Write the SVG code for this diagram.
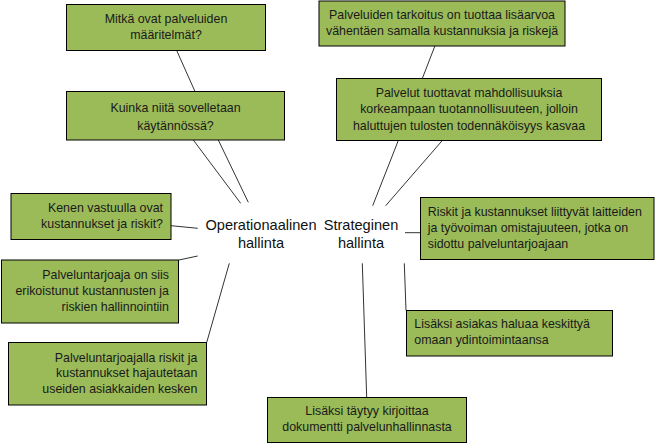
<svg xmlns="http://www.w3.org/2000/svg" width="655" height="444" viewBox="0 0 655 444">
<style>
.box{fill:#9BBB59;stroke:#000;stroke-width:1}
.t{font-family:"Liberation Sans",Arial,sans-serif;font-size:12.4px;fill:#1a1a1a}
.c{text-anchor:middle}
.r{text-anchor:end}
.hub{font-family:"Liberation Sans",Arial,sans-serif;font-size:14.6px;fill:#111;text-anchor:middle}
.ln{stroke:#333;stroke-width:1;fill:none}
</style>
<rect width="655" height="444" fill="#fff"/>
<g id="connectors">
<line class="ln" x1="176.7" y1="50.5" x2="195" y2="91.5"/>
<line class="ln" x1="193.3" y1="140" x2="240.7" y2="203.3"/>
<line class="ln" x1="218.3" y1="140" x2="248.3" y2="202.3"/>
<line class="ln" x1="171" y1="225.7" x2="197.7" y2="228.3"/>
<line class="ln" x1="179" y1="260" x2="197.7" y2="256"/>
<line class="ln" x1="206.7" y1="342.5" x2="229.3" y2="263.3"/>
<line class="ln" x1="366.7" y1="397.5" x2="362.3" y2="263.3"/>
<line class="ln" x1="404.3" y1="263.3" x2="406" y2="310.5"/>
<line class="ln" x1="405" y1="232.7" x2="420.5" y2="232.7"/>
<line class="ln" x1="435" y1="45.7" x2="422.3" y2="78.5"/>
<line class="ln" x1="398.3" y1="140.5" x2="372.7" y2="205.7"/>
<line class="ln" x1="442.3" y1="140.5" x2="385.7" y2="205.7"/>
</g>
<g id="hub-operational">
<text class="hub" x="261" y="230">Operationaalinen</text>
<text class="hub" x="261" y="248.3">hallinta</text>
</g>
<g id="hub-strategic">
<text class="hub" x="361" y="230">Strateginen</text>
<text class="hub" x="361" y="248.3">hallinta</text>
</g>
<g id="n1">
<rect class="box" x="66.5" y="4.5" width="199" height="46"/>
<text class="t c" x="166" y="23">Mitkä ovat palveluiden</text>
<text class="t c" x="166" y="38.5">määritelmät?</text>
</g>
<g id="n2">
<rect class="box" x="66.5" y="91.5" width="218" height="48.5"/>
<text class="t c" x="175.5" y="111.7">Kuinka niitä sovelletaan</text>
<text class="t c" x="175.5" y="130">käytännössä?</text>
</g>
<g id="n3">
<rect class="box" x="11" y="193.5" width="160" height="46"/>
<text class="t r" x="163" y="211.7">Kenen vastuulla ovat</text>
<text class="t r" x="163" y="227.7">kustannukset ja riskit?</text>
</g>
<g id="n4">
<rect class="box" x="1.5" y="260" width="177" height="63"/>
<text class="t r" x="169" y="279">Palveluntarjoaja on siis</text>
<text class="t r" x="169" y="295">erikoistunut kustannusten ja</text>
<text class="t r" x="169" y="310.7">riskien hallinnointiin</text>
</g>
<g id="n5">
<rect class="box" x="8.5" y="342.5" width="198" height="62.5"/>
<text class="t r" x="197.3" y="361.7">Palveluntarjoajalla riskit ja</text>
<text class="t r" x="197.3" y="377.3">kustannukset hajautetaan</text>
<text class="t r" x="197.3" y="393.3">useiden asiakkaiden kesken</text>
</g>
<g id="n6">
<rect class="box" x="267.5" y="397.5" width="199" height="45"/>
<text class="t c" x="367" y="415">Lisäksi täytyy kirjoittaa</text>
<text class="t c" x="367" y="430.7">dokumentti palvelunhallinnasta</text>
</g>
<g id="n7">
<rect class="box" x="406.5" y="310.5" width="206" height="45.5"/>
<text class="t" x="414.3" y="328.3">Lisäksi asiakas haluaa keskittyä</text>
<text class="t" x="414.3" y="344.3">omaan ydintoimintaansa</text>
</g>
<g id="n8">
<rect class="box" x="420.5" y="197.5" width="233.5" height="62"/>
<text class="t" x="427.7" y="216">Riskit ja kustannukset liittyvät laitteiden</text>
<text class="t" x="427.7" y="232.3">ja työvoiman omistajuuteen, jotka on</text>
<text class="t" x="427.7" y="247.7">sidottu palveluntarjoajaan</text>
</g>
<g id="n9">
<rect class="box" x="319" y="1" width="246" height="45"/>
<text class="t c" x="442" y="19.3">Palveluiden tarkoitus on tuottaa lisäarvoa</text>
<text class="t c" x="442" y="35">vähentäen samalla kustannuksia ja riskejä</text>
</g>
<g id="n10">
<rect class="box" x="336.5" y="78.5" width="265" height="62"/>
<text class="t c" x="469" y="96.7">Palvelut tuottavat mahdollisuuksia</text>
<text class="t c" x="469" y="113.3">korkeampaan tuotannollisuuteen, jolloin</text>
<text class="t c" x="469" y="130">haluttujen tulosten todennäköisyys kasvaa</text>
</g>
</svg>
